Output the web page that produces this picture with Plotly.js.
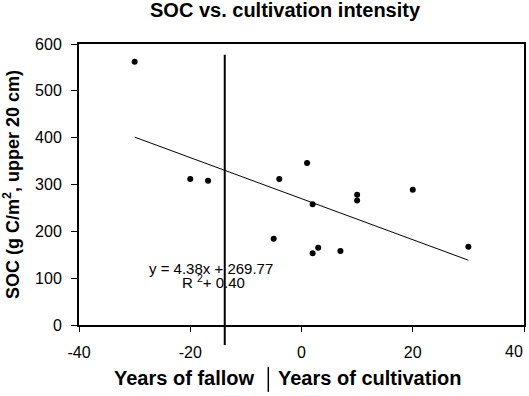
<!DOCTYPE html>
<html>
<head>
<meta charset="utf-8">
<script src="https://cdn.plot.ly/plotly-3.0.1.min.js"></script>
<style>html,body{margin:0;padding:0;background:#fff;}#chart{width:529px;height:396px;}</style>
</head>
<body>
<div id="chart"></div>
<script>
// Data
const yearsX = [-30, -20, -16.8, -4, 1, 2, -5, 3, 2, 7, 10, 10, 20, 30];
const socY   = [562, 312, 308, 312, 346, 258, 184, 165, 153, 158, 278, 266, 289, 167];

// Fitted trend line as reported on the chart
const fitSlope = -4.38;
const fitIntercept = 269.77;
const fitRangeX = [-30, 30];
const fitY = fitRangeX.map(x => fitSlope * x + fitIntercept);

// Boundary between fallow and cultivation
const boundaryX = -13.8;

const xTickVals = [-40, -20, 0, 20, 40];
const xTickText = ['-40', '-20', '0', '20', ''];
const lastXTickLabel = '40';
const yTickVals = [0, 100, 200, 300, 400, 500, 600];

const titleText = 'SOC vs. cultivation intensity';
const eqText = 'y = 4.38x + 269.77';
const r2Text = 'R <sup>2</sup>+ 0.40';
const xTitleLeft = 'Years of fallow';
const xTitleRight = 'Years of cultivation';

const FONT = 'Liberation Sans, Arial, sans-serif';

const traces = [
  {
    x: fitRangeX, y: fitY, mode: 'lines', type: 'scatter',
    line: {color: '#000', width: 1}, hoverinfo: 'skip', showlegend: false
  },
  {
    x: yearsX, y: socY, mode: 'markers', type: 'scatter',
    marker: {color: '#000', size: 6}, showlegend: false
  }
];

const layout = {
  width: 529, height: 396,
  margin: {l: 79, r: 5, t: 44, b: 71},
  paper_bgcolor: '#fff', plot_bgcolor: '#fff',
  font: {family: FONT, color: '#000', size: 16},
  xaxis: {
    range: [-40, 40], tickvals: xTickVals, ticktext: xTickText,
    showgrid: false, zeroline: false,
    showline: true, linecolor: '#000', linewidth: 2, mirror: true,
    ticks: 'outside', ticklen: 5, tickwidth: 1, tickcolor: '#000',
    ticklabelstandoff: 7,
    tickfont: {family: FONT, size: 16},
    automargin: false
  },
  yaxis: {
    range: [0, 600], tickvals: yTickVals,
    showgrid: false, zeroline: false,
    showline: true, linecolor: '#000', linewidth: 2, mirror: true,
    ticks: 'outside', ticklen: 6, tickwidth: 1, tickcolor: '#000',
    ticklabelstandoff: 6,
    tickfont: {family: FONT, size: 16},
    title: {
      text: 'SOC (g C/m<sup>2</sup>, upper 20 cm)',
      font: {family: FONT, size: 18, weight: 700},
      standoff: 12
    },
    automargin: false
  },
  shapes: [
    {type: 'line', xref: 'x', yref: 'paper', x0: boundaryX, x1: boundaryX, y0: -0.071, y1: 0.962,
     line: {color: '#000', width: 2}, layer: 'above'},
    {type: 'line', xref: 'paper', yref: 'paper', x0: 0.4254, x1: 0.4254, y0: -0.149, y1: -0.238,
     line: {color: '#000', width: 1.5}}
  ],
  annotations: [
    {x: 0.463, y: 1.12, xref: 'paper', yref: 'paper', text: titleText, showarrow: false,
     font: {family: FONT, size: 20, weight: 700, color: '#000'}, xanchor: 'center', yanchor: 'middle'},
    {x: -16.2, y: 120, xref: 'x', yref: 'y', text: eqText, showarrow: false,
     font: {family: FONT, size: 15, color: '#000'}, xanchor: 'center', yanchor: 'middle'},
    {x: -15.8, y: 93, xref: 'x', yref: 'y', text: r2Text, showarrow: false,
     font: {family: FONT, size: 15, color: '#000'}, xanchor: 'center', yanchor: 'middle'},
    {x: 40, y: -0.093, xref: 'x', yref: 'paper', text: lastXTickLabel, showarrow: false,
     font: {family: FONT, size: 16, color: '#000'}, xanchor: 'right', yanchor: 'middle', borderpad: 0},
    {x: 0.3975, y: -0.19, xref: 'paper', yref: 'paper', text: xTitleLeft, showarrow: false,
     font: {family: FONT, size: 20, weight: 700, color: '#000'}, xanchor: 'right', yanchor: 'middle'},
    {x: 0.4425, y: -0.19, xref: 'paper', yref: 'paper', text: xTitleRight, showarrow: false,
     font: {family: FONT, size: 20, weight: 700, color: '#000'}, xanchor: 'left', yanchor: 'middle'}
  ]
};

Plotly.newPlot('chart', traces, layout, {displayModeBar: false, staticPlot: true});
</script>
</body>
</html>
